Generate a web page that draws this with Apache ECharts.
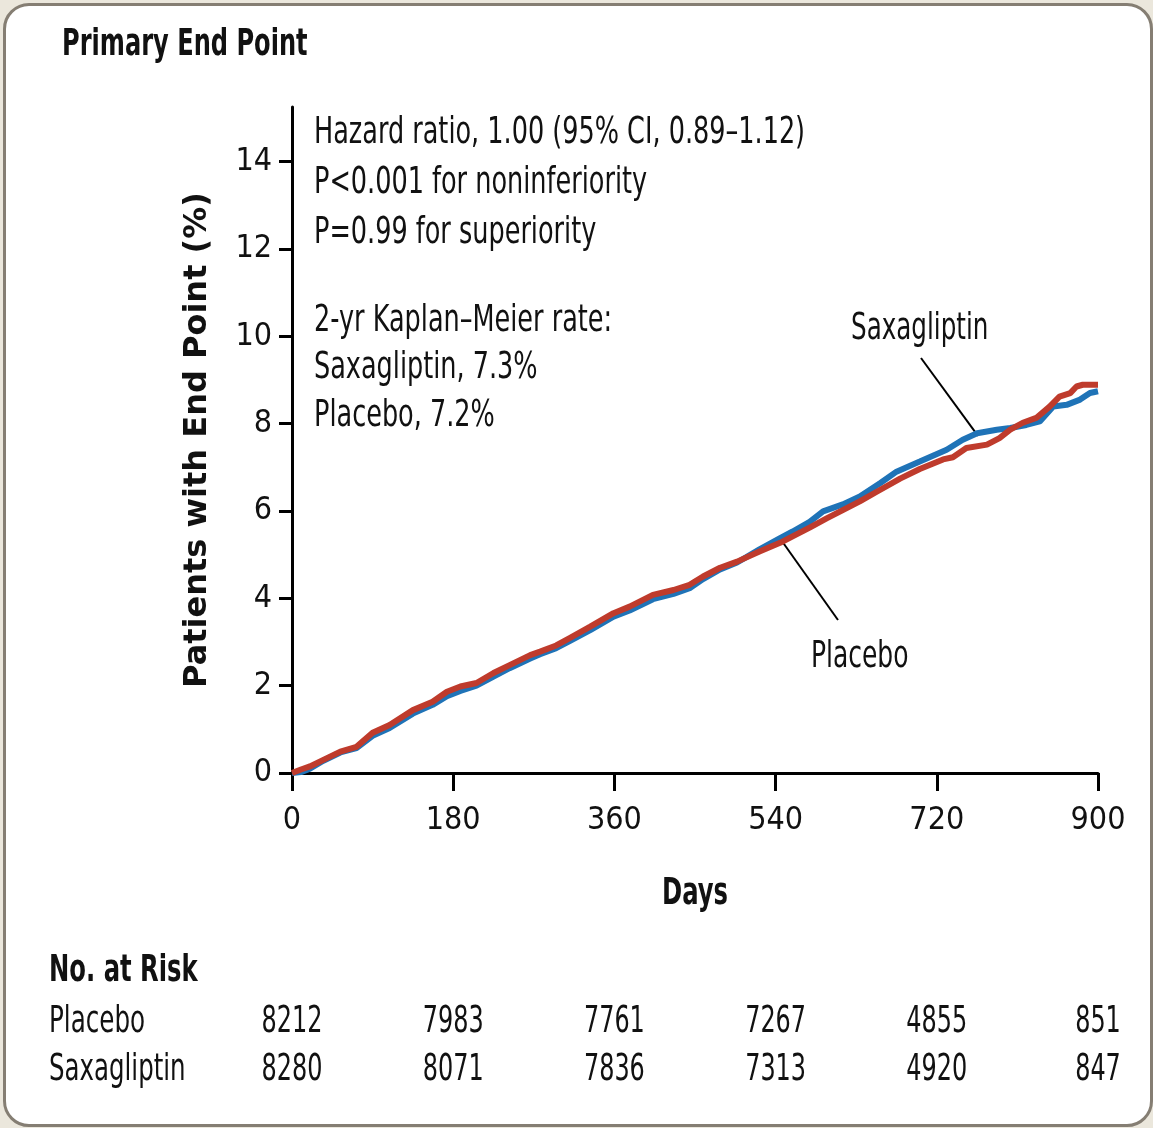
<!DOCTYPE html>
<html><head><meta charset="utf-8">
<script src="https://cdn.jsdelivr.net/npm/echarts@6/dist/echarts.min.js"></script>
<style>
html,body{margin:0;padding:0;background:#ebe7dc;width:1153px;height:1128px;overflow:hidden}
#panel{position:absolute;left:3px;top:3px;width:1144px;height:1118px;background:#fff;border:3px solid #857e73;border-radius:26px}
#c{position:absolute;left:0;top:0;width:1153px;height:1128px}
</style>
</head><body><div id="panel"></div><div id="c"></div>
<script>
// ---- data ----
const xTicks = [0, 180, 360, 540, 720, 900];
const yTicks = [0, 2, 4, 6, 8, 10, 12, 14];

const placeboDays = [0,10,20,35,54,72,90,109,135,157,173,188,206,225,243,266,277,295,310,333,359,377,403,426,444,459,478,497,522,545,559,578,597,615,634,653,679,701,727,738,753,776,790,802,816,831,846,857,869,876,883,900];
const placeboVals = [0,0.08,0.15,0.30,0.49,0.60,0.92,1.10,1.44,1.63,1.86,1.98,2.06,2.29,2.47,2.70,2.78,2.92,3.09,3.35,3.66,3.81,4.08,4.19,4.31,4.50,4.70,4.84,5.07,5.27,5.42,5.62,5.83,6.02,6.22,6.44,6.74,6.96,7.18,7.23,7.44,7.52,7.67,7.86,8.02,8.13,8.39,8.62,8.70,8.85,8.89,8.89];

const saxaDays = [0,10,20,35,54,72,90,109,135,157,173,188,206,225,243,266,277,295,310,333,359,377,403,426,444,459,478,497,522,545,559,578,593,615,634,657,675,701,731,749,765,787,802,820,835,850,865,880,891,900];
const saxaVals = [0,0.02,0.10,0.28,0.47,0.57,0.85,1.03,1.36,1.56,1.76,1.88,2.00,2.21,2.40,2.62,2.72,2.86,3.02,3.27,3.58,3.72,3.98,4.10,4.23,4.44,4.66,4.82,5.12,5.38,5.53,5.75,5.99,6.15,6.33,6.64,6.90,7.13,7.40,7.63,7.78,7.86,7.90,7.97,8.05,8.39,8.43,8.55,8.70,8.74];

const riskPlacebo = [8212, 7983, 7761, 7267, 4855, 851];
const riskSaxa = [8280, 8071, 7836, 7313, 4920, 847];

const annotLines = ["Hazard ratio, 1.00 (95% CI, 0.89\u20131.12)", "P<0.001 for noninferiority", "P=0.99 for superiority"];
const kmLines = ["2-yr Kaplan\u2013Meier rate:", "Saxagliptin, 7.3%", "Placebo, 7.2%"];

// ---- chart ----
const NARROW = '"Liberation Sans Narrow", "DejaVu Sans Condensed", sans-serif';
const INK = '#111';
const chart = echarts.init(document.getElementById('c'), null, {renderer: 'canvas'});

const zip = (d, v) => d.map((x, i) => [x, v[i]]);

chart.setOption({
  backgroundColor: 'transparent',
  animation: false,
  grid: {left: 292, right: 55, top: 107, bottom: 355, containLabel: false},
  xAxis: {
    type: 'value', min: 0, max: 900, interval: 180,
    axisLine: {show: true, onZero: false, lineStyle: {color: '#000', width: 3}},
    axisTick: {show: true, length: 18, lineStyle: {color: '#000', width: 3}},
    axisLabel: {fontFamily: NARROW, fontSize: 32, color: INK, margin: 32},
    splitLine: {show: false}
  },
  yAxis: {
    type: 'value', min: 0, max: 15.25, interval: 2,
    name: 'Patients with End Point (%)', nameLocation: 'middle', nameGap: 78,
    nameTextStyle: {fontFamily: '"DejaVu Sans", sans-serif', fontSize: 32, fontWeight: 'bold', color: INK},
    axisLine: {show: true, onZero: false, lineStyle: {color: '#000', width: 3}},
    axisTick: {show: true, length: 13, customValues: yTicks, lineStyle: {color: '#000', width: 3}},
    axisLabel: {fontFamily: NARROW, fontSize: 32, color: INK, margin: 20, customValues: yTicks},
    splitLine: {show: false}
  },
  series: [
    {name: 'Saxagliptin', type: 'line', data: zip(saxaDays, saxaVals), showSymbol: false,
     lineStyle: {color: '#1f73b7', width: 6}, z: 3},
    {name: 'Placebo', type: 'line', data: zip(placeboDays, placeboVals), showSymbol: false,
     lineStyle: {color: '#bf3b2c', width: 6}, z: 4}
  ]
});

function px(day, val) { return chart.convertToPixel({gridIndex: 0}, [day, val]); }

const g = [];
const DY = 3;
// condensed text: DejaVu Sans Condensed compressed horizontally to mimic the narrow original face
const txt = (text, x, y, opt, sx) => g.push({type: 'text', x: x, y: y + DY, scaleX: sx || 0.73, scaleY: 1,
  style: Object.assign({text: text, font: '38px ' + NARROW, fill: INK, textAlign: 'left', textVerticalAlign: 'middle'}, opt || {})});
const BOLD = {font: 'bold 38px ' + NARROW};

txt('Primary End Point', 62, 42, BOLD, 0.705);
annotLines.forEach((t, i) => txt(t, 314, 130 + i * 50, null, 0.747));
kmLines.forEach((t, i) => txt(t, 314, 318 + i * 47.5, null, 0.747));

// series labels with leader lines
txt('Saxagliptin', 851, 326, null, 0.72);
txt('Placebo', 811, 654, null, 0.73);
const sA = px(766, 7.72), sB = [921, 358];
const pA = px(546, 5.34), pB = [838, 620];
g.push({type: 'line', shape: {x1: sB[0], y1: sB[1], x2: sA[0], y2: sA[1]}, style: {stroke: '#000', lineWidth: 2}});
g.push({type: 'line', shape: {x1: pA[0], y1: pA[1], x2: pB[0], y2: pB[1]}, style: {stroke: '#000', lineWidth: 2}});

// x axis title
txt('Days', px(450, 0)[0], 891, Object.assign({textAlign: 'center'}, BOLD), 0.71);

// risk table
txt('No. at Risk', 49, 968, BOLD, 0.71);
txt('Placebo', 49, 1019, null, 0.72);
txt('Saxagliptin', 49, 1067, null, 0.716);
xTicks.forEach((d, i) => {
  const x = px(d, 0)[0];
  txt(String(riskPlacebo[i]), x, 1019, {textAlign: 'center'}, 0.70);
  txt(String(riskSaxa[i]), x, 1067, {textAlign: 'center'}, 0.70);
});

chart.setOption({graphic: {elements: g}});
</script>
</body></html>
